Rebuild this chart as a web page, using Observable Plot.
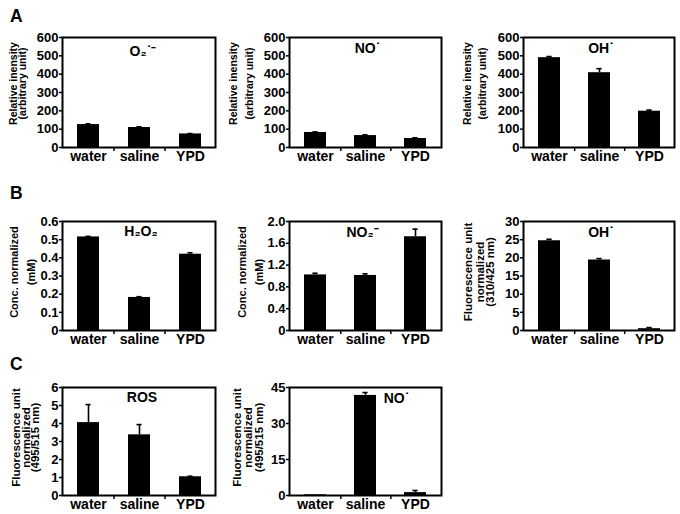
<!DOCTYPE html>
<html>
<head>
<meta charset="utf-8">
<script src="https://cdn.jsdelivr.net/npm/d3@7"></script>
<script src="https://cdn.jsdelivr.net/npm/@observablehq/plot@0.6"></script>
<style>
  html, body { margin: 0; padding: 0; background: #fff; }
  #fig { position: relative; width: 680px; height: 514px; overflow: hidden; font-family: 'Liberation Sans', Arial, sans-serif; }
  .pl { position: absolute; }
  .letter { position: absolute; font-weight: bold; font-size: 17.5px; line-height: 17.5px; color: #000; }
</style>
</head>
<body>
<div id="fig"></div>
<script>
// ---------- data ----------
const categories = ["water", "saline", "YPD"];

// Panel A (relative intensity, arbitrary unit)
const superoxideValues = [125, 109, 74];
const superoxideErrors = [4, 4, 2];
const nitricOxideAValues = [82, 65, 49];
const nitricOxideAErrors = [3, 4, 4];
const hydroxylAValues = [490, 408, 198];
const hydroxylAErrors = [6, 22, 6];
const intensityTicks = [0, 100, 200, 300, 400, 500, 600];
const intensityTickLabels = ["0", "100", "200", "300", "400", "500", "600"];

// Panel B
const h2o2Values = [0.515, 0.182, 0.42];
const h2o2Errors = [0.003, 0.004, 0.008];
const h2o2Ticks = [0, 0.1, 0.2, 0.3, 0.4, 0.5, 0.6];
const h2o2TickLabels = ["0", "0.1", "0.2", "0.3", "0.4", "0.5", "0.6"];
const nitriteValues = [1.02, 1.01, 1.72];
const nitriteErrors = [0.03, 0.03, 0.14];
const nitriteTicks = [0, 0.4, 0.8, 1.2, 1.6, 2.0];
const nitriteTickLabels = ["0", "0.4", "0.8", "1.2", "1.6", "2.0"];
const hydroxylBValues = [24.7, 19.4, 0.5];
const hydroxylBErrors = [0.4, 0.4, 0.3];
const hydroxylBTicks = [0, 5, 10, 15, 20, 25, 30];
const hydroxylBTickLabels = ["0", "5", "10", "15", "20", "25", "30"];

// Panel C
const rosValues = [4.05, 3.37, 1.04];
const rosErrors = [1.0, 0.57, 0.03];
const rosTicks = [0, 1, 2, 3, 4, 5, 6];
const rosTickLabels = ["0", "1", "2", "3", "4", "5", "6"];
const nitricOxideCValues = [0.3, 41.7, 1.2];
const nitricOxideCErrors = [0, 1.2, 0.9];
const nitricOxideCTicks = [0, 15, 30, 45];
const nitricOxideCTickLabels = ["0", "15", "30", "45"];

// ---------- layout ----------
const cols = [{fx1: 62, fx2: 215, left: 0}, {fx1: 289, fx2: 441, left: 222}, {fx1: 523, fx2: 674, left: 455}];
const rows = [{fy1: 37, fy2: 147}, {fy1: 221, fy2: 330}, {fy1: 387, fy2: 495}];
const FONT = "'Liberation Sans', Arial, sans-serif";

const panels = [
  {row: 0, col: 0, values: superoxideValues, errors: superoxideErrors, ticks: intensityTicks, tickLabels: intensityTickLabels,
   title: "O\u2082\u02D9\u207B", tdx: 4, tdy: 14, ylines: ["Relative inensity", "(arbitrary unit)"], yoff: [-48.5, -39.5], yfs: 10.5, ydy: -9},
  {row: 0, col: 1, values: nitricOxideAValues, errors: nitricOxideAErrors, ticks: intensityTicks, tickLabels: intensityTickLabels,
   title: "NO\u02D9", tdx: 2, tdy: 11, ylines: ["Relative inensity", "(arbitrary unit)"], yoff: [-55.5, -40], yfs: 10.5, ydy: -9},
  {row: 0, col: 2, values: hydroxylAValues, errors: hydroxylAErrors, ticks: intensityTicks, tickLabels: intensityTickLabels,
   title: "OH\u02D9", tdx: 2, tdy: 11, ylines: ["Relative inensity", "(arbitrary unit)"], yoff: [-56, -41], yfs: 10.5, ydy: -9},
  {row: 1, col: 0, values: h2o2Values, errors: h2o2Errors, ticks: h2o2Ticks, tickLabels: h2o2TickLabels,
   title: "H\u2082O\u2082", tdx: 2, tdy: 10, ylines: ["Conc. normalized", "(mM)"], yoff: [-48.5, -31.5], yfs: 11, ydy: -4},
  {row: 1, col: 1, values: nitriteValues, errors: nitriteErrors, ticks: nitriteTicks, tickLabels: nitriteTickLabels,
   title: "NO\u2082\u207B", tdx: -3, tdy: 11, ylines: ["Conc. normalized", "(mM)"], yoff: [-47, -30.5], yfs: 11, ydy: -4},
  {row: 1, col: 2, values: hydroxylBValues, errors: hydroxylBErrors, ticks: hydroxylBTicks, tickLabels: hydroxylBTickLabels,
   title: "OH\u02D9", tdx: 2, tdy: 11, ylines: ["Fluorescence unit", "normalized", "(310/425 nm)"], yoff: [-55, -43.5, -33.5], yfs: 11.5, ydy: -4},
  {row: 2, col: 0, values: rosValues, errors: rosErrors, ticks: rosTicks, tickLabels: rosTickLabels,
   title: "ROS", tdx: 3, tdy: 10, ylines: ["Fluorescence unit", "normalized", "(495/515 nm)"], yoff: [-46.5, -36, -27.5], yfs: 11.5, ydy: -4},
  {row: 2, col: 1, values: nitricOxideCValues, errors: nitricOxideCErrors, ticks: nitricOxideCTicks, tickLabels: nitricOxideCTickLabels,
   title: "NO\u02D9", tdx: 31, tdy: 11, ylines: ["Fluorescence unit", "normalized", "(495/515 nm)"], yoff: [-52, -41, -30.5], yfs: 11.5, ydy: -4}
];

const fig = document.getElementById("fig");
const MT = 8, MB = 24, MR = 6;
const PAD_IN = 0.57, PAD_OUT = 0.285;

for (const p of panels) {
  const c = cols[p.col], r = rows[p.row];
  const fw = c.fx2 - c.fx1, fh = r.fy2 - r.fy1;
  const ML = c.fx1 - c.left;
  const step = fw / (categories.length - PAD_IN + 2 * PAD_OUT);
  const bw = step * (1 - PAD_IN);
  const capInset = (bw - 5) / 2;
  const data = categories.map((cat, i) => ({cat, v: p.values[i], hi: p.values[i] + p.errors[i]}));
  const labelMap = new Map(p.ticks.map((t, i) => [t, p.tickLabels[i]]));

  const marks = [
    Plot.barY(data, {x: "cat", y: "v", fill: "black"}),
    Plot.ruleX(data.filter(d => d.hi > d.v), {x: "cat", y1: "v", y2: "hi", stroke: "black", strokeWidth: 1.6}),
    Plot.tickY(data.filter(d => d.hi > d.v), {x: "cat", y: "hi", stroke: "black", strokeWidth: 1.6, insetLeft: capInset, insetRight: capInset}),
    Plot.ruleX(categories.slice(0, -1), {x: d => d, dx: step / 2, insetTop: fh, insetBottom: -4, stroke: "black", strokeWidth: 1.5}),
    Plot.frame({stroke: "black", strokeWidth: 2}),
    Plot.axisY({ticks: p.ticks, tickFormat: d => labelMap.get(d), tickSize: 3, tickPadding: 1, fontSize: 13, fontWeight: "bold", strokeWidth: 1.5}),
    Plot.axisX({tickSize: 0, tickPadding: 4, fontSize: 14, fontWeight: "bold"}),
    Plot.text([p.title], {text: d => d, frameAnchor: "top", dx: p.tdx, dy: p.tdy, lineAnchor: "middle", fontSize: 14, fontWeight: "bold"})
  ];
  p.ylines.forEach((line, i) => {
    marks.push(Plot.text([line], {text: d => d, frameAnchor: "left", rotate: -90, dx: p.yoff[i], dy: p.ydy,
      textAnchor: "middle", lineAnchor: "middle", fontSize: p.yfs, fontWeight: "bold"}));
  });

  const chart = Plot.plot({
    width: ML + fw + MR,
    height: MT + fh + MB,
    marginLeft: ML, marginRight: MR, marginTop: MT, marginBottom: MB,
    style: {fontFamily: FONT, fontWeight: "bold", fontSize: "13px", color: "black", background: "none", overflow: "visible"},
    x: {domain: categories, paddingInner: PAD_IN, paddingOuter: PAD_OUT, label: null, axis: null},
    y: {domain: [p.ticks[0], p.ticks[p.ticks.length - 1]], label: null, axis: null},
    marks
  });
  chart.classList.add("pl");
  chart.style.left = c.left + "px";
  chart.style.top = (r.fy1 - MT) + "px";
  fig.appendChild(chart);
}

for (const [txt, top] of [["A", 8], ["B", 185], ["C", 356]]) {
  const d = document.createElement("div");
  d.className = "letter";
  d.textContent = txt;
  d.style.left = "10px";
  d.style.top = top + "px";
  fig.appendChild(d);
}
</script>
</body>
</html>
